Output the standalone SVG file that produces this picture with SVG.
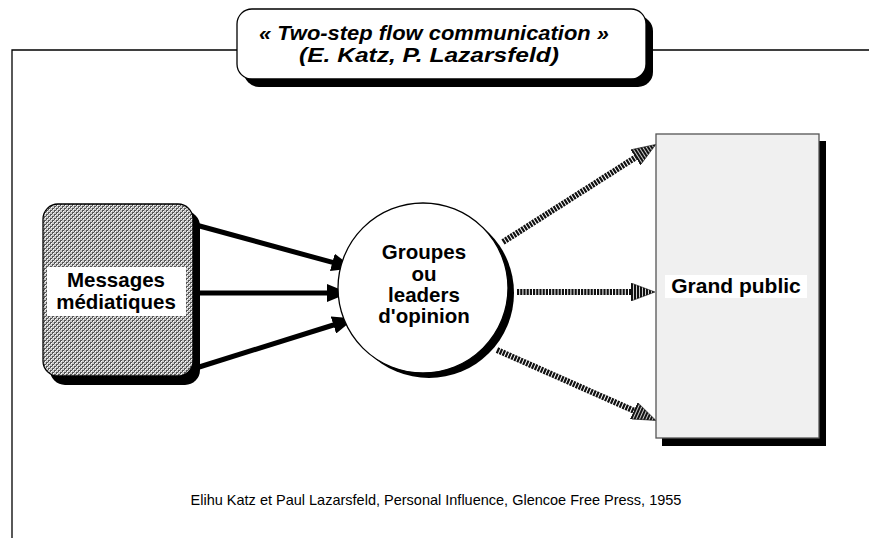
<svg xmlns="http://www.w3.org/2000/svg" width="869" height="538" viewBox="0 0 869 538">
  <defs>
    <style>
      .frame { fill: none; stroke: #000; stroke-width: 1.3; }
      .shadow { fill: #000; }
      .title { font-family: "Liberation Sans", Arial, sans-serif; font-weight: bold; font-style: italic; font-size: 20.5px; text-anchor: middle; fill: #000; }
      .label { font-family: "Liberation Sans", Arial, sans-serif; font-weight: bold; text-anchor: middle; fill: #000; }
      .note { font-family: "Liberation Sans", Arial, sans-serif; font-size: 14.5px; text-anchor: middle; fill: #000; }
      .solid { stroke: #000; stroke-width: 5; fill: none; }
      .hatched { stroke: #111; stroke-width: 6; stroke-dasharray: 2.2 1; fill: none; }
    </style>
    <!-- dotted screen for the media box -->
    <pattern id="screen" width="4" height="4" patternUnits="userSpaceOnUse">
      <rect width="4" height="4" fill="#c8c8c8"/>
      <rect x="0" y="0" width="2" height="2" fill="#555"/>
      <rect x="2" y="2" width="2" height="2" fill="#555"/>
      <rect x="1" y="1" width="1" height="1" fill="#fff"/>
      <rect x="3" y="3" width="1" height="1" fill="#fff"/>
    </pattern>
    <!-- stripes across the second-step arrowheads -->
    <pattern id="hatch" width="3" height="3" patternUnits="userSpaceOnUse">
      <rect width="3" height="3" fill="#fff"/>
      <rect width="2.2" height="3" fill="#111"/>
    </pattern>
    <marker id="head" markerWidth="4.4" markerHeight="3.6" refX="1" refY="1.8" orient="auto" markerUnits="strokeWidth">
      <path d="M0,0 L4.4,1.8 L0,3.6 Z" fill="#000"/>
    </marker>
    <marker id="hhead" markerWidth="24" markerHeight="18" refX="5" refY="9" orient="auto" markerUnits="userSpaceOnUse">
      <path d="M0,0 L24,9 L0,18 Z" fill="url(#hatch)" stroke="#111" stroke-width="0.6"/>
    </marker>
  </defs>

  <!-- page frame -->
  <path class="frame" d="M12,538 V50 H238 M646,50 H869"/>

  <!-- title -->
  <g id="title">
    <rect class="shadow" x="244" y="16" width="409" height="71" rx="15"/>
    <rect x="237" y="9" width="409" height="70" rx="15" fill="#fff" stroke="#000" stroke-width="1.3"/>
    <text class="title" x="434" y="40" textLength="350" lengthAdjust="spacingAndGlyphs">« Two-step flow communication »</text>
    <text class="title" x="429" y="62" textLength="260" lengthAdjust="spacingAndGlyphs">(E. Katz, P. Lazarsfeld)</text>
  </g>

  <!-- connectors -->
  <g id="connectors">
    <line class="solid" x1="196" y1="225" x2="337.2" y2="263.7" marker-end="url(#head)"/>
    <line class="solid" x1="196" y1="293" x2="332" y2="293" marker-end="url(#head)"/>
    <line class="solid" x1="196" y1="368" x2="338.2" y2="323.5" marker-end="url(#head)"/>
    <line class="hatched" x1="503" y1="242" x2="639.8" y2="154.7" marker-end="url(#hhead)"/>
    <line class="hatched" x1="517" y1="292" x2="636" y2="292" marker-end="url(#hhead)"/>
    <line class="hatched" x1="497" y1="350" x2="638.5" y2="412.7" marker-end="url(#hhead)"/>
  </g>

  <!-- media messages -->
  <g id="messages">
    <rect class="shadow" x="50" y="211" width="150" height="174" rx="15"/>
    <rect x="43" y="204" width="150" height="172" rx="15" fill="url(#screen)" stroke="#000" stroke-width="1.3"/>
    <rect x="47" y="267" width="139" height="49" fill="#fff"/>
    <text class="label" x="116" y="287" font-size="20.5">Messages</text>
    <text class="label" x="116" y="309" font-size="20.5">médiatiques</text>
  </g>

  <!-- opinion leaders -->
  <g id="leaders">
    <circle class="shadow" cx="429" cy="293" r="85"/>
    <circle cx="423" cy="288" r="85" fill="#fff" stroke="#000" stroke-width="1.3"/>
    <text class="label" x="424" y="259" font-size="20.5">Groupes</text>
    <text class="label" x="424" y="281" font-size="20.5">ou</text>
    <text class="label" x="424" y="302" font-size="20.5">leaders</text>
    <text class="label" x="424" y="323" font-size="20.5">d'opinion</text>
  </g>

  <!-- general public -->
  <g id="public">
    <rect class="shadow" x="662" y="141" width="164" height="305"/>
    <rect x="656" y="134" width="163" height="304" fill="#f0f0f0" stroke="#555" stroke-width="1.3"/>
    <rect x="665" y="275" width="142" height="23" fill="#fff"/>
    <text class="label" x="736" y="293" font-size="21">Grand public</text>
  </g>

  <text class="note" x="436" y="505">Elihu Katz et Paul Lazarsfeld, Personal Influence, Glencoe Free Press, 1955</text>
</svg>
